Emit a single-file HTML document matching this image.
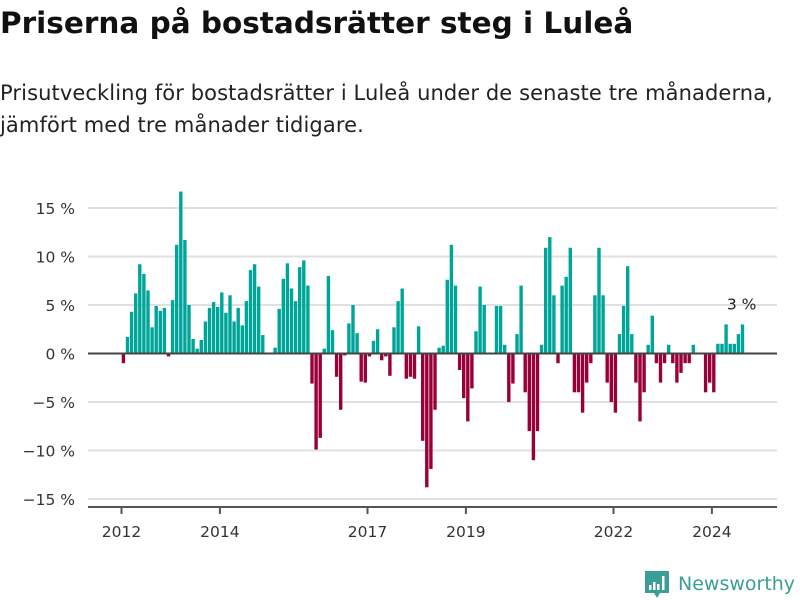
<!DOCTYPE html>
<html><head><meta charset="utf-8"><style>
body{margin:0;background:#fff;font-family:"DejaVu Sans","Liberation Sans",sans-serif;}
#wrap{position:relative;width:800px;height:600px;overflow:hidden;}
h1{position:absolute;left:0;top:6px;margin:0;font-size:29.5px;font-weight:bold;color:#111;letter-spacing:0px;}
#sub{position:absolute;left:0;top:77px;margin:0;font-size:21px;line-height:32px;color:#222;width:820px;letter-spacing:0.1px;}
svg{position:absolute;left:0;top:0;}
</style></head><body>
<div id="wrap">
<h1>Priserna på bostadsrätter steg i Luleå</h1>
<p id="sub">Prisutveckling för bostadsrätter i Luleå under de senaste tre månaderna,<br>jämfört med tre månader tidigare.</p>
<svg id="chart" width="800" height="600"></svg>
</div>
<script>
const startYear = 2012;
const values = [-1.0,1.7,4.3,6.2,9.2,8.2,6.5,2.7,4.9,4.4,4.7,-0.3,
5.5,11.2,16.7,11.7,5.0,1.5,0.5,1.4,3.3,4.7,5.3,4.8,
6.3,4.2,6.0,3.3,4.7,2.9,5.4,8.6,9.2,6.9,1.9,0,
0,0.6,4.6,7.7,9.3,6.7,5.4,8.9,9.6,7.0,-3.1,-9.9,
-8.7,0.5,8.0,2.4,-2.4,-5.8,-0.2,3.1,5.0,2.1,-2.9,-3.0,
-0.3,1.3,2.5,-0.7,-0.3,-2.3,2.7,5.4,6.7,-2.6,-2.4,-2.6,
2.8,-9.0,-13.8,-11.9,-5.8,0.6,0.8,7.6,11.2,7.0,-1.7,-4.6,
-7.0,-3.6,2.3,6.9,5.0,0,0,4.9,4.9,0.9,-5.0,-3.1,
2.0,7.0,-4.0,-8.0,-11.0,-8.0,0.9,10.9,12.0,6.0,-1.0,7.0,
7.9,10.9,-4.0,-4.0,-6.1,-3.0,-1.0,6.0,10.9,6.0,-3.0,-5.0,
-6.1,2.0,4.9,9.0,2.0,-3.0,-7.0,-4.0,0.9,3.9,-1.0,-3.0,
-1.0,0.9,-1.0,-3.0,-2.0,-1.0,-1.0,0.9,0,0,-4.0,-3.0,
-4.0,1.0,1.0,3.0,1.0,1.0,2.0,3.0];
const yTicks = [15,10,5,0,-5,-10,-15];
const yTickLabels = ["15 %","10 %","5 %","0 %","\u22125 %","\u221210 %","\u221215 %"];
const xTickYears = [2012,2014,2017,2019,2022,2024];
const lastLabel = "3 %";

const NS = "http://www.w3.org/2000/svg";
const FONT = "DejaVu Sans, Liberation Sans, sans-serif";
const svg = document.getElementById('chart');
const X0 = 121.5, STEP = 4.1, Y0 = 353.5, PX = 9.7;
function xIdx(i){ return X0 + i*STEP; }
function xYear(y){ return xIdx((y-startYear)*12); }
function yVal(v){ return Y0 - v*PX; }
function mk(tag, attrs){ const e=document.createElementNS(NS,tag); for(const k in attrs) e.setAttribute(k,attrs[k]); svg.appendChild(e); return e; }

yTicks.forEach((t,i)=>{
  if(t!==0){
    const g = mk('line',{x1:88,x2:777,y1:yVal(t),y2:yVal(t),stroke:'#e0e0e0','stroke-width':2});
    
    
  }
  const tx = mk('text',{x:75,y:yVal(t)+6,'text-anchor':'end','font-size':'15.5','fill':'#333','font-family':FONT});
  tx.textContent = yTickLabels[i];
  
  
});

values.forEach((v,i)=>{
  if(v===0) return;
  const y = v>0 ? yVal(v) : Y0;
  const r = mk('rect',{x:xIdx(i)+0.2,y:y,width:3.4,height:Math.abs(v)*PX,fill:v>0?'#00a59a':'#9a0038'});
  
  
});

const zl = mk('line',{x1:88,x2:777,y1:Y0,y2:Y0,stroke:'#444','stroke-width':2});


const xl = mk('line',{x1:88,x2:777,y1:507,y2:507,stroke:'#555','stroke-width':2});



xTickYears.forEach(yr=>{
  const x = xYear(yr);
  const tk = mk('line',{x1:x,x2:x,y1:507,y2:514,stroke:'#555','stroke-width':2});
  
  
  const t = mk('text',{x:x,y:537,'text-anchor':'middle','font-size':'15.5','fill':'#333','font-family':FONT});
  t.textContent = yr;
  
  
});

const li = values.length-1;
const lab = mk('text',{x:xIdx(li)+1,y:yVal(values[li])-15,'text-anchor':'middle','font-size':'15.5','fill':'#222','font-family':FONT});
lab.textContent = lastLabel;



const lg = mk('g',{});


const icon = document.createElementNS(NS,'path');
icon.setAttribute('d','M645 571 h24 v22 h-9 l-3 5 l-3 -5 h-9 z');
icon.setAttribute('fill','#3a9e96');
lg.appendChild(icon);
[[649,585,2.5,5],[653,582,2.5,8],[657,584,2.5,6],[662,576,2.5,14]].forEach(b=>{
  const r=document.createElementNS(NS,'rect');
  r.setAttribute('x',b[0]);r.setAttribute('y',b[1]);r.setAttribute('width',b[2]);r.setAttribute('height',b[3]);r.setAttribute('fill','#fff');
  lg.appendChild(r);
});
const lt = document.createElementNS(NS,'text');
lt.setAttribute('x',678);lt.setAttribute('y',590);lt.setAttribute('font-size','19');lt.setAttribute('fill','#3a9e96');
lt.setAttribute('font-family',FONT);
lt.textContent='Newsworthy';
lg.appendChild(lt);
svg.appendChild(lg);
</script>
</body></html>
